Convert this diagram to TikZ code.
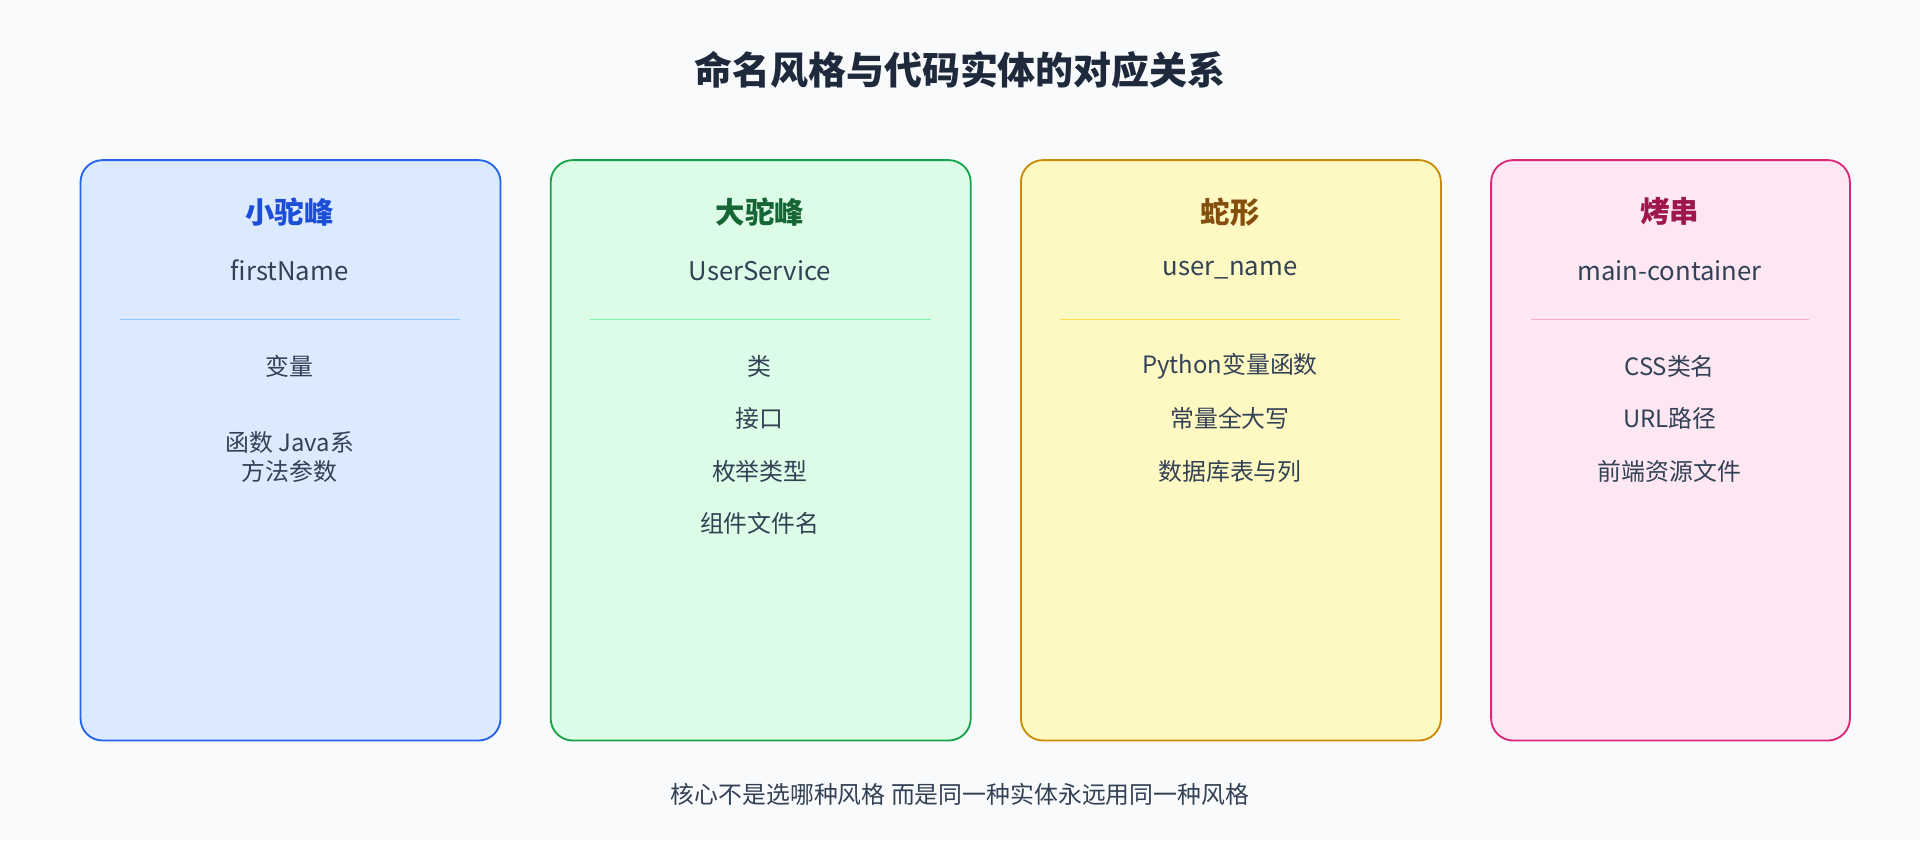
\documentclass[tikz,border=0pt]{standalone}
\usepackage{fontspec}
\setmainfont{Noto Sans CJK SC}
\usetikzlibrary{positioning}
\definecolor{bgpage}{HTML}{F8FAFC}
\definecolor{ink}{HTML}{334155}
\definecolor{inkdark}{HTML}{1E293B}
\definecolor{blueFill}{HTML}{DBEAFE}\definecolor{blueLine}{HTML}{2563EB}\definecolor{blueHead}{HTML}{1D4ED8}\definecolor{blueRule}{HTML}{93C5FD}
\definecolor{greenFill}{HTML}{DCFCE7}\definecolor{greenLine}{HTML}{16A34A}\definecolor{greenHead}{HTML}{166534}\definecolor{greenRule}{HTML}{86EFAC}
\definecolor{yellowFill}{HTML}{FEF9C3}\definecolor{yellowLine}{HTML}{CA8A04}\definecolor{yellowHead}{HTML}{854D0E}\definecolor{yellowRule}{HTML}{FDE047}
\definecolor{pinkFill}{HTML}{FCE7F3}\definecolor{pinkLine}{HTML}{DB2777}\definecolor{pinkHead}{HTML}{9D174D}\definecolor{pinkRule}{HTML}{F9A8D4}
\tikzset{
    card/.style = {draw, line width=1.5pt, rounded corners=18pt, anchor=north west},
    head/.style = {font=\bfseries\fontsize{24}{28}\selectfont},
    style name/.style = {text=ink, font=\fontsize{21}{25}\selectfont},
    item/.style = {text=ink, font=\fontsize{19.5}{23}\selectfont},
    rule/.style = {line width=0.8pt}
}
\begin{document}
\begin{tikzpicture}[x=1pt, y=-1pt, node distance=19pt]
    \fill[bgpage] (0,0) rectangle (1568,686);
    \useasboundingbox (0,0) rectangle (1568,686);

    % Title
    \node[text=inkdark, font=\bfseries\fontsize{31}{36}\selectfont] (title) at (784,57) {命名风格与代码实体的对应关系};

    % Card 1: lower camel
    \node[card, fill=blueFill, draw=blueLine, minimum width=343pt, minimum height=474pt] (lower) at (65,130) {};
    \node[head, text=blueHead] (lowerHead) at (236.5,173) {小驼峰};
    \node[style name] (lowerName) at (236.5,221) {firstName};
    \draw[rule, blueRule] (98,261) -- (376,261);
    \node[item] (lowerA) at (236.5,299) {变量};
    \node[item, below=of lowerA, anchor=center, yshift=0pt] (lowerB) at (236.5,342) {函数 Java系};
    \node[item] (lowerC) at (236.5,385) {方法参数};

    % Card 2: upper camel
    \node[card, fill=greenFill, draw=greenLine, minimum width=343pt, minimum height=474pt] (upper) at (449,130) {};
    \node[head, text=greenHead] (upperHead) at (620.5,173) {大驼峰};
    \node[style name] (upperName) at (620.5,221) {UserService};
    \draw[rule, greenRule] (482,261) -- (760,261);
    \node[item] (upperA) at (620.5,299) {类};
    \node[item] (upperB) at (620.5,342) {接口};
    \node[item] (upperC) at (620.5,385) {枚举类型};
    \node[item] (upperD) at (620.5,427) {组件文件名};

    % Card 3: snake
    \node[card, fill=yellowFill, draw=yellowLine, minimum width=343pt, minimum height=474pt] (snake) at (833,130) {};
    \node[head, text=yellowHead] (snakeHead) at (1004.5,173) {蛇形};
    \node[style name] (snakeName) at (1004.5,221) {user\_name};
    \draw[rule, yellowRule] (866,261) -- (1143,261);
    \node[item] (snakeA) at (1004.5,299) {Python变量函数};
    \node[item] (snakeB) at (1004.5,342) {常量全大写};
    \node[item] (snakeC) at (1004.5,385) {数据库表与列};

    % Card 4: kebab
    \node[card, fill=pinkFill, draw=pinkLine, minimum width=293pt, minimum height=474pt] (kebab) at (1217,130) {};
    \node[head, text=pinkHead] (kebabHead) at (1363.5,173) {烤串};
    \node[style name] (kebabName) at (1363.5,221) {main-container};
    \draw[rule, pinkRule] (1250,261) -- (1477,261);
    \node[item] (kebabA) at (1363.5,299) {CSS类名};
    \node[item] (kebabB) at (1363.5,342) {URL路径};
    \node[item] (kebabC) at (1363.5,385) {前端资源文件};

    % Footer
    \node[item, text=ink] (footer) at (784,649) {核心不是选哪种风格 而是同一种实体永远用同一种风格};
\end{tikzpicture}
\end{document}
